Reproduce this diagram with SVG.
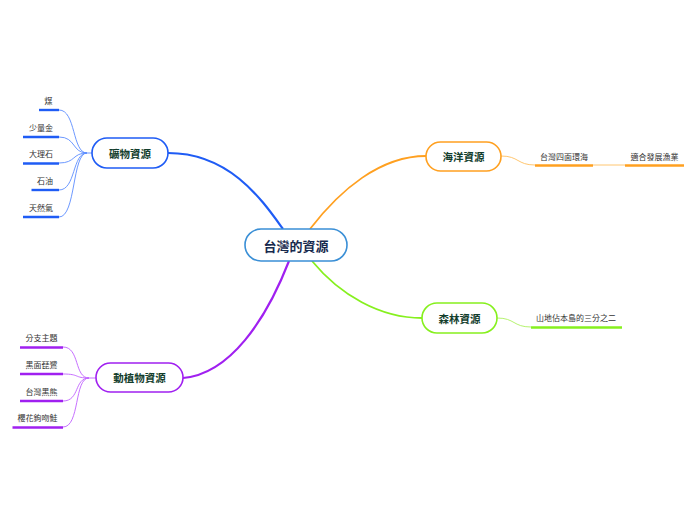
<svg xmlns="http://www.w3.org/2000/svg" width="696" height="520" viewBox="0 0 696 520">
<style>
text{font-family:"Noto Sans CJK TC","Noto Sans CJK SC",sans-serif;text-anchor:middle;dominant-baseline:central}
.main{font-size:10.5px;font-weight:bold;fill:#123d2c}
.center{font-size:13px;font-weight:bold;fill:#172a4e}
.leaf{font-size:8px;fill:#333}
.node{fill:#fff;stroke-width:1.6}
.conn{fill:none}
.thin{fill:none;stroke-width:0.9}
.ul{stroke-width:2.4;fill:none}
</style>
<rect width="696" height="520" fill="#fff"/>
<g id="connectors">
<path class="conn" d="M168,153 C230,153 262,200 283,229" stroke="#1f5cf5" stroke-width="2.2"/>
<path class="conn" d="M183,378 C230,374 266,320 289,261" stroke="#a020f0" stroke-width="2.2"/>
<path class="conn" d="M310,229 C340,190 380,156 426,156" stroke="#ffa020" stroke-width="1.8"/>
<path class="conn" d="M312,261 C340,295 380,318 422,318" stroke="#86f01e" stroke-width="1.8"/>
<g stroke="#5b8cff">
<path class="thin" d="M59,110 C76,110 72,153 87,153 L92,153"/>
<path class="thin" d="M59,137 C76,137 72,153 87,153"/>
<path class="thin" d="M59,163 C76,163 72,153 87,153"/>
<path class="thin" d="M59,190 C76,190 72,153 87,153"/>
<path class="thin" d="M59,217 C76,217 72,153 87,153"/>
</g>
<g stroke="#c060ff">
<path class="thin" d="M63,347 C80,347 74,378 89,378 L96,378"/>
<path class="thin" d="M63,374 C80,374 74,378 89,378"/>
<path class="thin" d="M63,401 C80,401 74,378 89,378"/>
<path class="thin" d="M63,427 C80,427 74,378 89,378"/>
</g>
<path class="thin" d="M501,156 C519,156 517,165 535,165" stroke="#ffc060"/>
<path class="thin" d="M593,165 L625,165" stroke="#ffc060"/>
<path class="thin" d="M497,318 C515,318 513,327 531,327" stroke="#aef060"/>
</g>
<g id="center">
<rect class="node" x="245" y="229" width="102" height="32" rx="16" stroke="#3a8fd6"/>
<text class="center" x="296" y="245">台灣的資源</text>
</g>
<g id="minerals">
<rect class="node" x="92" y="138" width="76" height="30" rx="15" stroke="#1f5cf5"/>
<text class="main" x="130" y="153">礦物資源</text>
</g>
<g id="animals">
<rect class="node" x="96" y="363" width="87" height="29" rx="14.5" stroke="#a020f0"/>
<text class="main" x="139.5" y="377.5">動植物資源</text>
</g>
<g id="ocean">
<rect class="node" x="426" y="142" width="75" height="29" rx="14.5" stroke="#ffa020"/>
<text class="main" x="463.5" y="156.5">海洋資源</text>
</g>
<g id="forest">
<rect class="node" x="422" y="303" width="75" height="30" rx="15" stroke="#86f01e"/>
<text class="main" x="459.5" y="318">森林資源</text>
</g>
<g id="leaf-coal"><text class="leaf" x="48.5" y="100">煤</text><path class="ul" d="M39,110 H59" stroke="#1f5cf5"/></g>
<g id="leaf-gold"><text class="leaf" x="41" y="127">少量金</text><path class="ul" d="M23,137 H59" stroke="#1f5cf5"/></g>
<g id="leaf-marble"><text class="leaf" x="41" y="153.5">大理石</text><path class="ul" d="M23,163.5 H59" stroke="#1f5cf5"/></g>
<g id="leaf-oil"><text class="leaf" x="45" y="180.5">石油</text><path class="ul" d="M31.5,190 H59" stroke="#1f5cf5"/></g>
<g id="leaf-gas"><text class="leaf" x="41" y="207">天然氣</text><path class="ul" d="M23,217 H59" stroke="#1f5cf5"/></g>
<g id="leaf-branch"><text class="leaf" x="41.5" y="337">分支主題</text><path class="ul" d="M20,347.5 H63" stroke="#a020f0"/></g>
<g id="leaf-spoonbill"><text class="leaf" x="41.5" y="364">黑面琵鷺</text><path class="ul" d="M20,374 H63" stroke="#a020f0"/></g>
<g id="leaf-bear"><text class="leaf" x="41.5" y="391">台灣黑熊</text><path class="ul" d="M20,401 H63" stroke="#a020f0"/></g>
<g id="leaf-salmon"><text class="leaf" x="37.5" y="417.5">櫻花鉤吻鮭</text><path class="ul" d="M12.5,427.5 H63" stroke="#a020f0"/></g>
<g id="leaf-sea"><text class="leaf" x="564" y="156">台灣四面環海</text><path class="ul" d="M535,165.5 H593" stroke="#ffa020"/></g>
<g id="leaf-fishery"><text class="leaf" x="654.5" y="156">適合發展漁業</text><path class="ul" d="M625,165.5 H684" stroke="#ffa020"/></g>
<g id="leaf-mountain"><text class="leaf" x="576" y="317.5">山地佔本島的三分之二</text><path class="ul" d="M531,327.5 H622" stroke="#86f01e"/></g>
</svg>
